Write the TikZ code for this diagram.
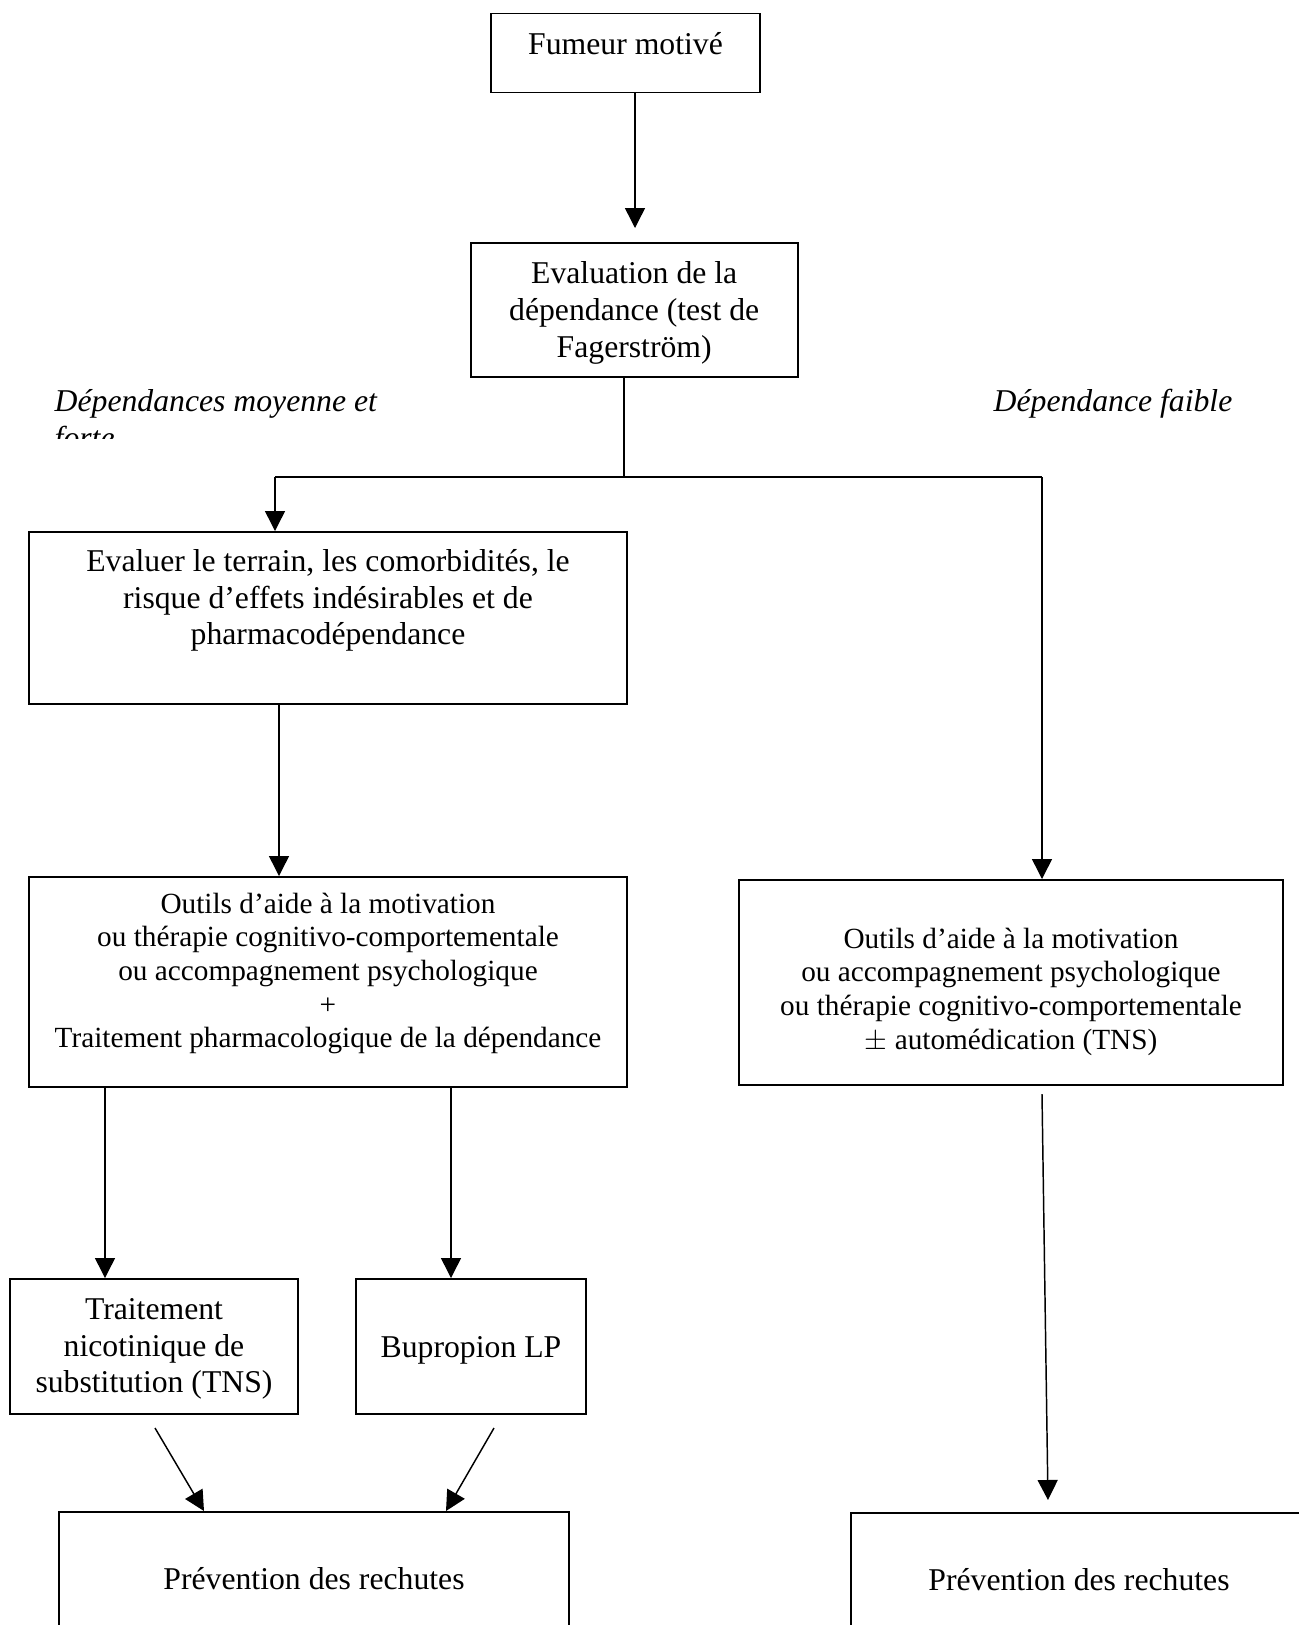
\documentclass[tikz,border=0pt]{standalone}
\usepackage{fontspec}
\setmainfont{Liberation Serif}
\usetikzlibrary{arrows.meta}

\tikzset{%
        every box/.style={
            draw,
            line width=0.8pt,
            rectangle,
            inner sep=0pt,
            anchor=north,
            align=center,
            font=\fontsize{13}{15}\selectfont
        },
        box small/.style={
            font=\fontsize{12}{13.8}\selectfont
        },
        branch label/.style={
            inner sep=0pt,
            anchor=base west,
            align=left,
            font=\fontsize{13}{15}\selectfont\itshape
        },
    }

\begin{document}
\begin{tikzpicture}[x=0.41pt, y=-0.41pt, >={Triangle[length=8.2pt, width=8.2pt]}, line width=0.6pt]

        \path [use as bounding box, fill=white] (0,0) rectangle (1299,1625);
        \clip (0,0) rectangle (1299,1625);

        % boxes
        \node [every box, minimum width=110.3pt, text height=17pt, text depth=15.4pt] (fumeur) at (625.5,12.5) {Fumeur motivé};
        \node [every box, minimum width=134.1pt, text height=46.9pt, text depth=8.2pt] (evaluation) at (634.2,241.7) {Evaluation de la\\dépendance (test de\\Fagerström)};
        \node [every box, minimum width=245.2pt, text height=46.3pt, text depth=24.2pt] (evaluer) at (328,531) {Evaluer le terrain, les comorbidités, le\\risque d’effets indésirables et de\\pharmacodépendance};
        \node [every box, box small, minimum width=245.2pt, text height=70.1pt, text depth=16pt] (outils-left) at (328,876) {Outils d’aide à la motivation\\ou thérapie cognitivo-comportementale\\ou accompagnement psychologique\\+\\Traitement pharmacologique de la dépendance};
        \node [every box, box small, minimum width=223pt, text height=69.3pt, text depth=14.8pt] (outils-right) at (1011,879) {Outils d’aide à la motivation\\ou accompagnement psychologique\\ou thérapie cognitivo-comportementale\\$\pm$ automédication (TNS)};
        \node [every box, minimum width=118.1pt, text height=46.7pt, text depth=8.6pt] (tns) at (154,1278) {Traitement\\nicotinique de\\substitution (TNS)};
        \node [every box, minimum width=94.3pt, text height=32pt, text depth=23.4pt] (bupropion) at (471,1278) {Bupropion LP};
        \node [every box, minimum width=209.1pt, text height=31.6pt, text depth=25pt] (prevention-left) at (314,1511) {Prévention des rechutes};
        \node [every box, minimum width=187pt, text height=31.6pt, text depth=25pt] (prevention-right) at (1079,1512) {Prévention des rechutes};

        % branch labels
        \begin{scope}
            \clip (0,0) rectangle (640,438);
            \node [branch label] (label-forte) at (54,448) {Dépendances moyenne et\\forte};
        \end{scope}
        \node [branch label] (label-faible) at (993,411) {Dépendance faible};

        % connectors
        \coordinate (fumeur-head) at (635,228);
        \draw [->] (fumeur.south -| fumeur-head) -- (fumeur-head);

        \coordinate (split) at (624,477);
        \coordinate (split-left) at (275,477);
        \coordinate (split-right) at (1042,477);
        \draw (evaluation.south -| split) -- (split);
        \draw (split-left) -- (split-right);
        \draw [->] (split-left) -- (split-left |- evaluer.north);
        \draw [->] (split-right) -- (split-right |- outils-right.north);

        \draw [->] (evaluer.south -| 279,0) -- (outils-left.north -| 279,0);

        \foreach \x/\n in {105/tns, 451/bupropion}
            \draw [->] (outils-left.south -| \x,0) -- (\n.north -| \x,0);

        \coordinate (tns-tail) at (155,1428);
        \coordinate (bupropion-tail) at (494,1428);
        \draw [->] (tns-tail) -- (prevention-left.north -| 204,0);
        \draw [->] (bupropion-tail) -- (prevention-left.north -| 446,0);

        \coordinate (outils-right-tail) at (1042,1094);
        \coordinate (prevention-right-head) at (1048,1500);
        \draw [->] (outils-right-tail) -- (prevention-right-head);
    \end{tikzpicture}
\end{document}
